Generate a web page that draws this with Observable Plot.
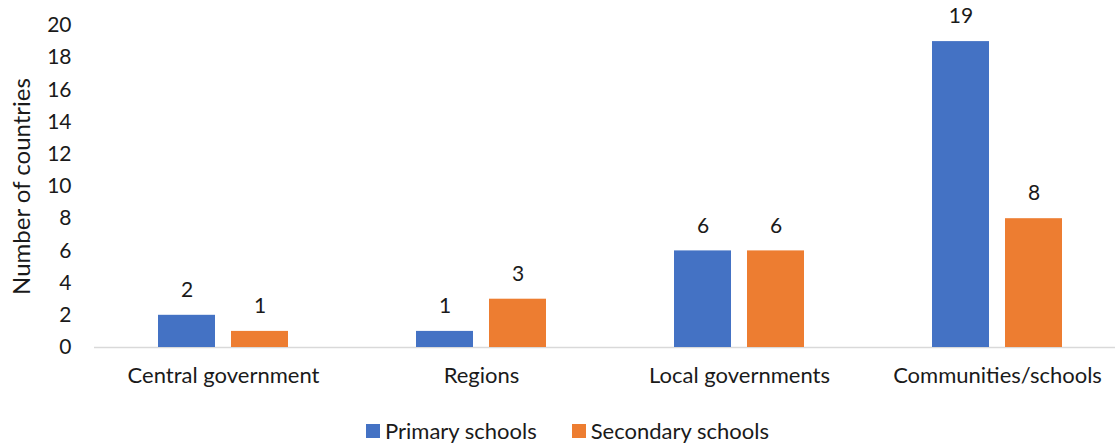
<!DOCTYPE html>
<html>
<head>
<meta charset="utf-8">
<script src="https://cdn.jsdelivr.net/npm/d3@7"></script>
<script src="https://cdn.jsdelivr.net/npm/@observablehq/plot@0.6"></script>
<style>
  body { margin: 0; background: #fff; font-family: Lato, "Open Sans", sans-serif; }
  #legend { display: flex; align-items: center; margin-left: 366px; margin-top: 10px; font-size: 22px; line-height: 26px; color: #1a1a1a; }
  #legend .item { display: flex; align-items: center; margin-right: 35px; }
  #legend .sw { width: 14px; height: 14px; margin-right: 5px; }
  g[aria-label="y-axis label"] text { font-size: 24px; }
  g[aria-label="fx-axis tick label"] text { font-size: 22px; }
</style>
</head>
<body>
<div id="chart"></div>
<div id="legend"></div>
<script>
const categories = ["Central government", "Regions", "Local governments", "Communities/schools"];
const series = ["Primary schools", "Secondary schools"];
const primaryValues = [2, 1, 6, 19];
const secondaryValues = [1, 3, 6, 8];
const yTicks = [0, 2, 4, 6, 8, 10, 12, 14, 16, 18, 20];
const colors = ["#4472C4", "#ED7D31"];

const data = categories.flatMap((c, i) => [
  {category: c, series: series[0], value: primaryValues[i]},
  {category: c, series: series[1], value: secondaryValues[i]}
]);

const chart = Plot.plot({
  width: 1115,
  height: 408,
  marginLeft: 92,
  marginRight: -12,
  marginTop: 25,
  marginBottom: 61,
  style: {fontFamily: "Lato, 'Open Sans', sans-serif", fontSize: "21px", color: "#1a1a1a", overflow: "hidden"},
  fx: {domain: categories, padding: 0, label: null, axis: "bottom", tickSize: 0, tickPadding: 20},
  x: {domain: series, paddingInner: 0.216, paddingOuter: 0.857, axis: null},
  y: {domain: [0, 20], ticks: yTicks, tickSize: 0, tickPadding: 23, label: "Number of countries", labelAnchor: "center", labelArrow: "none", labelOffset: 82},
  color: {domain: series, range: colors},
  marks: [
    Plot.ruleY([0], {stroke: "#d9d9d9", strokeWidth: 1.5}),
    Plot.barY(data, {fx: "category", x: "series", y: "value", fill: "series"}),
    Plot.text(data, {fx: "category", x: "series", y: "value", text: d => String(d.value), dy: -25, fill: "#1a1a1a", fontSize: 21})
  ]
});
document.getElementById("chart").appendChild(chart);

const legend = document.getElementById("legend");
series.forEach((s, i) => {
  const item = document.createElement("div");
  item.className = "item";
  const sw = document.createElement("div");
  sw.className = "sw";
  sw.style.background = colors[i];
  const label = document.createElement("span");
  label.textContent = s;
  item.appendChild(sw);
  item.appendChild(label);
  legend.appendChild(item);
});
</script>
</body>
</html>
